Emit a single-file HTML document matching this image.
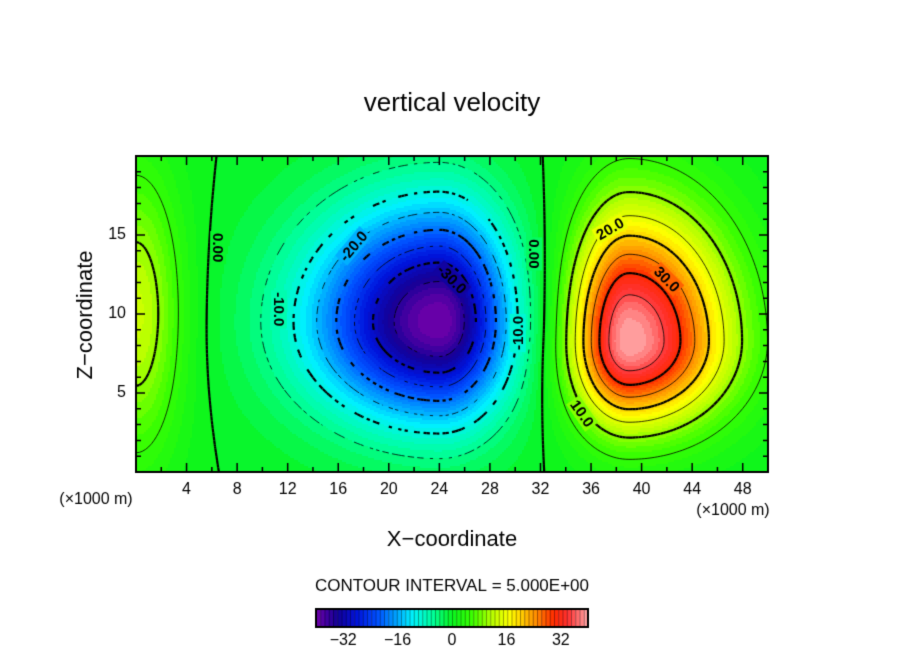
<!DOCTYPE html>
<html><head><meta charset="utf-8">
<style>
body{margin:0;background:#fff;width:904px;height:654px;overflow:hidden;font-family:"Liberation Sans",sans-serif;}
#wrap{position:relative;width:904px;height:654px;}
canvas{position:absolute;left:0;top:0;}
</style></head>
<body>
<div id="wrap">
<canvas id="c" width="904" height="654"></canvas>
</div>
<script>
// Field blobs (center x, center z, amplitude, widths left/right/down/up)
const blobX = [24, 39, 0];
const blobZ = [9.5, 8.3, 10];
const blobAmp = [-40, 40, 13];
const blobSxL = [9.8, 4.4, 3.6];
const blobSxR = [5.4, 7.6, 3.6];
const blobSzD = [6.0, 5.2, 9];
const blobSzU = [7.0, 8.0, 9];
const xTicks = [4,8,12,16,20,24,28,32,36,40,44,48];
const zTicks = [5,10,15];
const cbTicks = [-32,-16,0,16,32];
const contourLevels = [-35,-30,-25,-20,-15,-10,-5,0,5,10,15,20,25,30,35];
const labelText = ["0.00","-10.0","-20.0","-30.0","-10.0","0.00","20.0","30.0","10.0"];
const labelX = [6.5, 11.3, 17.2, 25, 30.2, 31.5, 37.5, 42, 35.3];
const labelZ = [14.2, 10.3, 14.3, 12.2, 8.8, 13.8, 15.4, 12.2, 3.7];
const labelRot = [90, 90, -50, 45, -90, 90, -30, 45, 55];

const X0=136, X1=768, Y0=156, Y1=472, XMAX=50, ZMAX=20;
const sx = x => X0 + x/XMAX*(X1-X0);
const sy = z => Y1 - z/ZMAX*(Y1-Y0);

function field(x,z){
  let v=0;
  for(let k=0;k<blobX.length;k++){
    const dx=x-blobX[k], dz=z-blobZ[k];
    const wx = dx<0?blobSxL[k]:blobSxR[k];
    const wz = dz<0?blobSzD[k]:blobSzU[k];
    v += blobAmp[k]*Math.exp(-(dx*dx)/(wx*wx)-(dz*dz)/(wz*wz));
  }
  return v;
}
const stops=[[-40,[112,0,170]],[-34,[20,0,150]],[-28,[0,20,220]],[-22,[0,80,255]],[-16,[0,170,255]],[-12,[0,240,255]],[-6,[0,255,160]],[0,[10,245,30]],[6,[60,255,0]],[12,[190,255,0]],[17,[255,255,0]],[24,[255,150,0]],[30,[255,40,0]],[34,[255,50,50]],[40,[255,170,170]]];
function color(v){
  v=Math.max(-40,Math.min(40,v));
  v=Math.floor((v+40)/1.25)*1.25-40+0.6;
  for(let i=0;i<stops.length-1;i++){
    const a=stops[i],b=stops[i+1];
    if(v<=b[0]){const t=(v-a[0])/(b[0]-a[0]);
      return `rgb(${a[1].map((c,j)=>Math.round(c+t*(b[1][j]-c))).join(',')})`;}
  }
  return 'rgb(255,170,170)';
}
const cv=document.getElementById('c'), ctx=cv.getContext('2d');
for(let py=Y0;py<Y1;py+=2){for(let px=X0;px<X1;px+=2){
  const x=(px+1-X0)/(X1-X0)*XMAX, z=(Y1-py-1)/(Y1-Y0)*ZMAX;
  ctx.fillStyle=color(field(x,z)); ctx.fillRect(px,py,2,2);
}}
const N=200, M=80;
const g=[];
for(let i=0;i<=N;i++){g[i]=[];for(let j=0;j<=M;j++)g[i][j]=field(i/N*XMAX,j/M*ZMAX);}
ctx.save();ctx.beginPath();ctx.rect(X0,Y0,X1-X0,Y1-Y0);ctx.clip();
contourLevels.forEach(L=>{
  const thick = L%10===0;
  ctx.lineWidth = thick?2.2:0.8; ctx.strokeStyle='#000';
  for(let i=0;i<N;i++)for(let j=0;j<M;j++){
    const c=[[i,j],[i+1,j],[i+1,j+1],[i,j+1]];
    const pts=[];
    for(let e=0;e<4;e++){
      const a=c[e],b=c[(e+1)%4],va=g[a[0]][a[1]],vb=g[b[0]][b[1]];
      if((va<L)!==(vb<L)){const t=(L-va)/(vb-va);
        pts.push([a[0]+t*(b[0]-a[0]),a[1]+t*(b[1]-a[1])]);}
    }
    if(pts.length<2)continue;
    if(L<0){const px=sx(pts[0][0]/N*XMAX), py=sy(pts[0][1]/M*ZMAX);
      if((Math.floor(px/5)+Math.floor(py/5))%2===0)continue;}
    for(let p=0;p+1<pts.length;p+=2){
      ctx.beginPath();
      ctx.moveTo(sx(pts[p][0]/N*XMAX),sy(pts[p][1]/M*ZMAX));
      ctx.lineTo(sx(pts[p+1][0]/N*XMAX),sy(pts[p+1][1]/M*ZMAX));
      ctx.stroke();
    }
  }
});
ctx.restore();
ctx.font='bold 15px "Liberation Sans", sans-serif';ctx.textAlign='center';ctx.textBaseline='middle';
labelText.forEach((t,k)=>{
  ctx.save();ctx.translate(sx(labelX[k]),sy(labelZ[k]));ctx.rotate(labelRot[k]*Math.PI/180);
  const w=ctx.measureText(t).width;
  ctx.fillStyle=color(field(labelX[k],labelZ[k]));ctx.fillRect(-w/2-2,-8,w+4,16);
  ctx.fillStyle='#000';ctx.fillText(t,0,1);ctx.restore();
});
ctx.strokeStyle='#000';ctx.lineWidth=2;ctx.strokeRect(X0,Y0,X1-X0,Y1-Y0);
ctx.lineWidth=1.5;
for(let x=2;x<XMAX;x+=2){const L=x%4===0?9:5;ctx.beginPath();ctx.moveTo(sx(x),Y1);ctx.lineTo(sx(x),Y1-L);ctx.moveTo(sx(x),Y0);ctx.lineTo(sx(x),Y0+L);ctx.stroke();}
for(let z=1;z<ZMAX;z++){const L=z%5===0?9:5;ctx.beginPath();ctx.moveTo(X0,sy(z));ctx.lineTo(X0+L,sy(z));ctx.moveTo(X1,sy(z));ctx.lineTo(X1-L,sy(z));ctx.stroke();}
ctx.fillStyle='#000';ctx.font='16px "Liberation Sans", sans-serif';
xTicks.forEach(t=>ctx.fillText(String(t),sx(t),490));
ctx.textAlign='right';zTicks.forEach(t=>ctx.fillText(String(t),126,sy(t)));
ctx.textAlign='center';
ctx.fillText('(×1000 m)',96,500);ctx.fillText('(×1000 m)',733,511);
ctx.font='26px "Liberation Sans", sans-serif';ctx.fillText('vertical velocity',452,104);
ctx.font='22px "Liberation Sans", sans-serif';ctx.fillText('X\u2212coordinate',452,540);
ctx.save();ctx.translate(86,315);ctx.rotate(-Math.PI/2);ctx.fillText('Z\u2212coordinate',0,0);ctx.restore();
ctx.font='17px "Liberation Sans", sans-serif';ctx.fillText('CONTOUR INTERVAL = 5.000E+00',452,586);
const CB0=316,CB1=588,CBY=609,CBH=18;
for(let k=0;k<64;k++){const v=-40+k*1.25;const x0=CB0+k*(CB1-CB0)/64;
  ctx.fillStyle=color(v);ctx.fillRect(x0,CBY,(CB1-CB0)/64+0.5,CBH);
  ctx.fillStyle='rgba(0,0,0,0.35)';ctx.fillRect(x0,CBY,1,CBH);}
ctx.lineWidth=2;ctx.strokeRect(CB0,CBY,CB1-CB0,CBH);
ctx.fillStyle='#000';ctx.font='16px "Liberation Sans", sans-serif';
cbTicks.forEach(t=>ctx.fillText(String(t).replace('-','\u2212'),CB0+(t+40)/80*(CB1-CB0),641));
</script>
</body></html>
